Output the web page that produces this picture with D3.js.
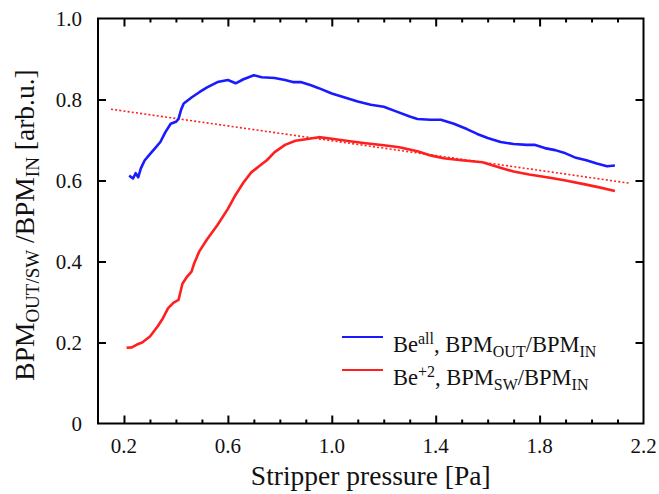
<!DOCTYPE html>
<html><head><meta charset="utf-8">
<script src="https://cdn.jsdelivr.net/npm/d3@7"></script>
<style>body{margin:0;background:#fff}svg{display:block}text{font-family:"Liberation Serif","DejaVu Serif",serif;fill:#111}</style>
</head><body>
<svg id="c" width="659" height="494"></svg>
<script>
// Data
const bluePressure = [0.22,0.235,0.245,0.255,0.265,0.28,0.30,0.32,0.34,0.36,0.38,0.40,0.41,0.42,0.43,0.46,0.49,0.52,0.56,0.60,0.63,0.66,0.70,0.73,0.78,0.82,0.85,0.88,0.92,0.95,1.00,1.05,1.10,1.15,1.20,1.25,1.30,1.33,1.38,1.42,1.47,1.52,1.56,1.60,1.65,1.70,1.75,1.78,1.82,1.86,1.90,1.94,1.98,2.02,2.06,2.09];
const blueValues = [0.612,0.605,0.618,0.608,0.630,0.650,0.665,0.680,0.695,0.720,0.740,0.745,0.752,0.775,0.790,0.805,0.818,0.830,0.843,0.848,0.840,0.850,0.860,0.855,0.853,0.848,0.843,0.843,0.835,0.828,0.815,0.805,0.795,0.787,0.782,0.770,0.758,0.752,0.750,0.750,0.740,0.727,0.715,0.705,0.695,0.690,0.688,0.688,0.680,0.675,0.667,0.656,0.650,0.642,0.635,0.637];
const redPressure = [0.21,0.23,0.25,0.27,0.30,0.33,0.35,0.37,0.39,0.41,0.425,0.44,0.46,0.47,0.49,0.52,0.56,0.60,0.63,0.66,0.69,0.72,0.75,0.78,0.82,0.86,0.90,0.95,1.00,1.07,1.13,1.20,1.26,1.33,1.38,1.43,1.50,1.58,1.63,1.70,1.76,1.84,1.90,1.97,2.03,2.09];
const redValues = [0.187,0.188,0.195,0.200,0.215,0.240,0.260,0.285,0.298,0.305,0.345,0.360,0.375,0.395,0.425,0.455,0.490,0.530,0.565,0.595,0.620,0.635,0.650,0.670,0.688,0.698,0.702,0.707,0.703,0.697,0.692,0.687,0.682,0.672,0.662,0.655,0.650,0.645,0.635,0.622,0.615,0.607,0.600,0.591,0.583,0.574];
const trendPressure = [0.15, 2.15];
const trendValues = [0.776, 0.593];
const xTickLabels = [0.2, 0.6, 1.0, 1.4, 1.8, 2.2];
const xMinorTicks = [0.2,0.3,0.4,0.5,0.6,0.7,0.8,0.9,1.0,1.1,1.2,1.3,1.4,1.5,1.6,1.7,1.8,1.9,2.0,2.1];
const yTickLabels = [0, 0.2, 0.4, 0.6, 0.8, 1.0];

const svg = d3.select("#c");
const L = 98, R = 643.5, T = 18.5, B = 423.5;
const x = d3.scaleLinear().domain([0.1, 2.2]).range([L, R]);
const y = d3.scaleLinear().domain([0, 1.0]).range([B, T]);
const blue = "#1a1aff", red = "#ff1f1f";

const line = d3.line().x(d => x(d[0])).y(d => y(d[1]));
const blueData = d3.zip(bluePressure, blueValues);
const redData = d3.zip(redPressure, redValues);
const trendData = d3.zip(trendPressure, trendValues);

svg.append("path").datum(trendData).attr("d", line).attr("fill","none")
  .attr("stroke", red).attr("stroke-width",1.6).attr("stroke-dasharray","2,2.2");
svg.append("path").datum(redData).attr("d", line).attr("fill","none")
  .attr("stroke", red).attr("stroke-width",2.6).attr("stroke-linejoin","round");
svg.append("path").datum(blueData).attr("d", line).attr("fill","none")
  .attr("stroke", blue).attr("stroke-width",2.6).attr("stroke-linejoin","round");

// frame
svg.append("rect").attr("x",L).attr("y",T).attr("width",R-L).attr("height",B-T)
  .attr("fill","none").attr("stroke","#000").attr("stroke-width",2);

// axes (inward ticks)
const fmtX = d => d.toFixed(1);
const fmtY = d => d === 0 ? "0" : d.toFixed(1);
function styleAxis(g){ g.select(".domain").remove(); g.selectAll("line").attr("stroke","#000").attr("stroke-width",2); }
svg.append("g").attr("transform",`translate(0,${B})`)
  .call(d3.axisTop(x).tickValues(xMinorTicks.filter(v=>!xTickLabels.some(t=>Math.abs(t-v)<1e-9))).tickSize(4).tickFormat(""))
  .call(styleAxis);
svg.append("g").attr("transform",`translate(0,${T})`)
  .call(d3.axisBottom(x).tickValues(xMinorTicks.filter(v=>!xTickLabels.some(t=>Math.abs(t-v)<1e-9))).tickSize(4).tickFormat(""))
  .call(styleAxis);
svg.append("g").attr("transform",`translate(0,${B})`)
  .call(d3.axisTop(x).tickValues(xTickLabels.filter(v=>v<2.15)).tickSize(8).tickFormat(""))
  .call(styleAxis);
svg.append("g").attr("transform",`translate(0,${T})`)
  .call(d3.axisBottom(x).tickValues(xTickLabels.filter(v=>v<2.15)).tickSize(8).tickFormat(""))
  .call(styleAxis);
svg.append("g").attr("transform",`translate(${L},0)`)
  .call(d3.axisRight(y).tickValues(yTickLabels.filter(v=>v>0&&v<1)).tickSize(8).tickFormat(""))
  .call(styleAxis);
svg.append("g").attr("transform",`translate(${R},0)`)
  .call(d3.axisLeft(y).tickValues(yTickLabels.filter(v=>v>0&&v<1)).tickSize(8).tickFormat(""))
  .call(styleAxis);

// tick labels
svg.append("g").selectAll("text").data(xTickLabels).join("text")
  .attr("x", d => x(d)).attr("y", 453).attr("text-anchor","middle")
  .attr("font-size", 21).text(fmtX);
svg.append("g").selectAll("text").data(yTickLabels).join("text")
  .attr("x", 82).attr("y", d => y(d) + 7).attr("text-anchor","end")
  .attr("font-size", 21).text(fmtY);

// axis titles
svg.append("text").attr("x", (L+R)/2 + 0).attr("y", 485).attr("text-anchor","middle")
  .attr("font-size", 27.5).text("Stripper pressure [Pa]");
const yt = svg.append("text").attr("transform", `translate(34,${(T+B)/2 + 4}) rotate(-90)`)
  .attr("text-anchor","middle").attr("font-size", 27.5);
yt.append("tspan").text("BPM");
yt.append("tspan").attr("font-size", 19).attr("dy", 5).text("OUT/SW");
yt.append("tspan").attr("dy", -5).text(" /BPM");
yt.append("tspan").attr("font-size", 19).attr("dy", 5).text("IN");
yt.append("tspan").attr("dy", -5).text(" [arb.u.]");

// legend
const legend = [
  {c: blue, y: 337, parts: [["Be",0,null],["all",-8,"sup"],[", BPM",8,null],["OUT",5,"sub"],["/BPM",-5,null],["IN",5,"sub"]]},
  {c: red, y: 370, parts: [["Be",0,null],["+2",-8,"sup"],[", BPM",8,null],["SW",5,"sub"],["/BPM",-5,null],["IN",5,"sub"]]}
];
legend.forEach(l => {
  svg.append("line").attr("x1",342).attr("x2",383).attr("y1",l.y).attr("y2",l.y)
    .attr("stroke", l.c).attr("stroke-width",2);
  const t = svg.append("text").attr("x",393).attr("y",l.y+15).attr("font-size",22.5);
  l.parts.forEach(p => {
    const s = t.append("tspan").attr("dy", p[1]).text(p[0]);
    if (p[2]) s.attr("font-size", 16);
  });
});
</script>
</body></html>
